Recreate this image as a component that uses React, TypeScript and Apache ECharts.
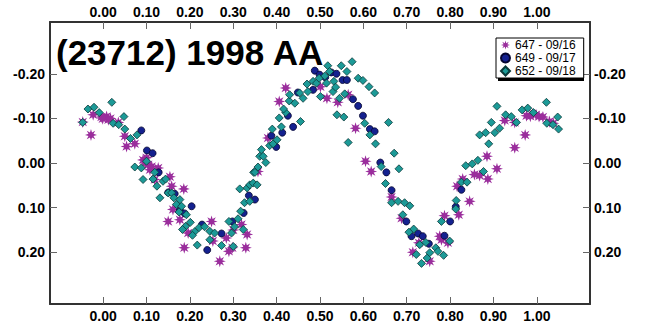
import React, { useEffect, useRef } from "react";
import * as echarts from "echarts";

// Rotational phase vs. differential magnitude for three nights.
const night647: [number, number][] = [
  [-0.047, -0.092], [-0.028, -0.063], [-0.023, -0.108], [-0.004, -0.103], [0.008, -0.104],
  [0.012, -0.097], [-0.001, -0.099], [0.017, -0.1], [0.035, -0.091], [0.05, -0.06],
  [0.054, -0.037], [0.073, -0.043], [0.092, -0.007], [0.097, 0.0], [0.104, 0.004],
  [0.1, -0.012], [0.108, 0.015], [0.112, 0.008], [0.127, 0.011], [0.119, 0.037],
  [0.154, 0.031], [0.158, 0.052], [0.186, 0.058], [0.161, 0.104], [0.15, 0.131],
  [0.177, 0.127], [0.196, 0.157], [0.187, 0.19], [0.25, 0.131], [0.253, 0.175],
  [0.269, 0.22], [0.284, 0.168], [0.29, 0.198], [0.298, 0.19], [0.3, 0.15],
  [0.319, 0.138], [0.329, 0.19], [0.332, 0.16], [0.357, 0.019], [0.38, -0.056],
  [0.406, -0.138], [0.421, -0.168], [0.501, -0.171], [0.516, -0.145], [0.541, -0.136],
  [0.565, -0.153], [0.582, -0.078], [0.605, -0.004], [0.618, 0.019], [0.665, 0.076],
  [0.688, 0.124], [0.714, 0.2], [0.728, 0.179], [0.753, 0.22], [0.78, 0.172],
  [0.795, 0.179], [0.787, 0.118], [0.776, 0.164], [0.82, 0.116], [0.816, 0.052],
  [0.845, 0.086], [0.829, 0.036], [0.856, 0.026], [0.868, 0.028], [0.887, 0.036],
  [0.908, 0.013], [0.885, -0.015], [0.949, -0.034], [0.973, -0.063], [0.926, -0.095],
  [0.949, -0.091], [0.976, -0.106], [0.985, -0.105], [0.991, -0.11], [0.998, -0.108],
  [1.005, -0.104], [1.014, -0.103], [1.029, -0.093], [1.038, -0.089],
];

const night649: [number, number][] = [
  [0.088, -0.073], [0.101, -0.028], [0.114, -0.022], [0.128, 0.021], [0.15, 0.066],
  [0.165, 0.069], [0.177, 0.106], [0.188, 0.113], [0.204, 0.097], [0.228, 0.138],
  [0.24, 0.195], [0.273, 0.158], [0.298, 0.131], [0.324, 0.112], [0.336, 0.073],
  [0.35, 0.082], [0.399, -0.036], [0.388, -0.061], [0.413, -0.068], [0.438, -0.081],
  [0.426, -0.106], [0.449, -0.158], [0.484, -0.164], [0.488, -0.207], [0.499, -0.198],
  [0.512, -0.192], [0.526, -0.203], [0.538, -0.2], [0.552, -0.186], [0.562, -0.186],
  [0.576, -0.143], [0.588, -0.128], [0.599, -0.106], [0.615, -0.076], [0.626, -0.071],
  [0.639, -0.001], [0.653, 0.021], [0.665, 0.061], [0.699, 0.131], [0.711, 0.164],
  [0.726, 0.158], [0.737, 0.164], [0.751, 0.181], [0.787, 0.163], [0.8, 0.131],
  [0.813, 0.098], [0.826, 0.06],
];

const night652: [number, number][] = [
  [-0.047, -0.091], [-0.035, -0.121], [-0.021, -0.125], [-0.009, -0.113], [0.02, -0.136],
  [0.023, -0.089], [0.036, -0.086], [0.048, -0.104], [0.05, -0.076], [0.063, -0.055],
  [0.078, -0.063], [0.073, 0.009], [0.088, 0.011], [0.1, -0.004], [0.092, 0.037],
  [0.115, 0.036], [0.119, 0.021], [0.124, 0.052], [0.138, 0.041], [0.144, 0.036],
  [0.131, 0.078], [0.15, 0.067], [0.158, 0.067], [0.163, 0.078], [0.177, 0.082],
  [0.169, 0.093], [0.181, 0.097], [0.175, 0.11], [0.192, 0.116], [0.19, 0.142],
  [0.201, 0.133], [0.183, 0.149], [0.211, 0.154], [0.206, 0.162], [0.217, 0.184],
  [0.221, 0.145], [0.234, 0.143], [0.246, 0.153], [0.246, 0.172], [0.257, 0.157],
  [0.273, 0.185], [0.29, 0.131], [0.296, 0.157], [0.303, 0.143], [0.3, 0.187],
  [0.311, 0.125], [0.317, 0.108], [0.323, 0.149], [0.326, 0.089], [0.338, 0.086],
  [0.315, 0.058], [0.332, 0.056], [0.338, 0.049], [0.346, 0.045], [0.347, 0.021],
  [0.355, 0.049], [0.357, 0.009], [0.361, -0.015], [0.35, 0.021], [0.365, -0.03],
  [0.369, -0.015], [0.375, -0.001], [0.384, -0.039], [0.392, -0.043], [0.401, -0.052],
  [0.39, -0.076], [0.411, -0.081], [0.406, -0.101], [0.421, -0.113], [0.416, -0.121],
  [0.429, -0.139], [0.442, -0.134], [0.43, -0.153], [0.453, -0.157], [0.461, -0.145],
  [0.472, -0.16], [0.455, -0.093], [0.47, -0.177], [0.484, -0.183], [0.492, -0.179],
  [0.498, -0.19], [0.501, -0.149], [0.511, -0.195], [0.515, -0.179], [0.518, -0.218],
  [0.522, -0.205], [0.53, -0.16], [0.532, -0.183], [0.536, -0.17], [0.545, -0.145],
  [0.549, -0.218], [0.557, -0.155], [0.562, -0.205], [0.574, -0.227], [0.588, -0.19],
  [0.599, -0.185], [0.613, -0.171], [0.626, -0.157], [0.539, -0.108], [0.555, -0.103],
  [0.565, -0.046], [0.603, -0.089], [0.615, -0.063], [0.628, -0.043], [0.641, 0.008],
  [0.651, 0.046], [0.658, -0.091], [0.671, -0.022], [0.682, 0.013], [0.665, 0.089],
  [0.68, 0.086], [0.695, 0.089], [0.707, 0.096], [0.691, 0.116], [0.716, 0.148],
  [0.705, 0.155], [0.73, 0.183], [0.722, 0.205], [0.734, 0.225], [0.744, 0.178],
  [0.747, 0.213], [0.753, 0.201], [0.767, 0.19], [0.772, 0.198], [0.785, 0.207],
  [0.78, 0.131], [0.799, 0.175], [0.814, 0.084], [0.813, 0.103], [0.826, 0.043],
  [0.839, 0.043], [0.836, 0.006], [0.851, 0.002], [0.864, -0.006], [0.877, 0.019],
  [0.889, -0.043], [0.868, -0.063], [0.882, -0.068], [0.903, -0.068], [0.895, -0.091],
  [0.914, -0.078], [0.908, -0.127], [0.928, -0.108], [0.941, -0.104], [0.953, -0.091],
  [0.966, -0.119], [0.979, -0.123], [0.992, -0.113], [1.022, -0.136], [1.023, -0.089],
  [1.037, -0.086], [1.048, -0.103], [1.05, -0.076],
];

const seriesNames = ["647 - 09/16", "649 - 09/17", "652 - 09/18"];
const phaseTicks = [0, 0.1, 0.2, 0.3, 0.4, 0.5, 0.6, 0.7, 0.8, 0.9, 1.0];
const magTicks = [-0.2, -0.1, 0, 0.1, 0.2];
const titleText = "(23712) 1998 AA";

// eight-spoked asterisk marker
const ASTERISK =
  "path://M20 10 L14.16 11.72 L17.07 17.07 L11.72 14.16 L10 20 L8.28 14.16 L2.93 17.07 L5.84 11.72 L0 10 L5.84 8.28 L2.93 2.93 L8.28 5.84 L10 0 L11.72 5.84 L17.07 2.93 L14.16 8.28 Z";

const FONT = '"Liberation Sans", Arial, sans-serif';
const frameLine = { show: true, onZero: false, lineStyle: { color: "#333", width: 2 } };
const tickStyle = { inside: true, length: 7, lineStyle: { color: "#666", width: 1 } };
const labelStyle = {
  color: "#000",
  fontFamily: FONT,
  fontWeight: "bold" as const,
  fontSize: 14,
  formatter: (v: number) => Number(v).toFixed(2),
};

export default function App() {
  const ref = useRef<HTMLDivElement>(null);
  useEffect(() => {
    if (!ref.current) return;
    const chart = echarts.init(ref.current, undefined, { renderer: "svg" });
    const xAxisBase = {
      type: "value" as const,
      min: -0.1225,
      max: 1.1225,
      axisLine: frameLine,
      axisTick: { ...tickStyle, customValues: phaseTicks },
      splitLine: { show: false },
    };
    const yAxisBase = {
      type: "value" as const,
      inverse: true,
      min: -0.316,
      max: 0.316,
      axisLine: frameLine,
      axisTick: { ...tickStyle, customValues: magTicks },
      splitLine: { show: false },
    };
    chart.setOption({
      animation: false,
      backgroundColor: "#fff",
      grid: { left: 50, right: 55, top: 22, bottom: 29, containLabel: false },
      xAxis: [
        { ...xAxisBase, position: "bottom", axisLabel: { ...labelStyle, margin: 5, customValues: phaseTicks } },
        { ...xAxisBase, position: "top", axisLabel: { ...labelStyle, margin: 3, customValues: phaseTicks } },
      ],
      yAxis: [
        { ...yAxisBase, position: "left", axisLabel: { ...labelStyle, margin: 5, customValues: magTicks } },
        { ...yAxisBase, position: "right", axisLabel: { ...labelStyle, margin: 4, customValues: magTicks } },
      ],
      legend: {
        orient: "vertical",
        left: 496,
        top: 38,
        data: seriesNames,
        backgroundColor: "#fff",
        borderColor: "#000",
        borderWidth: 1,
        padding: [1, 8, 1, 4],
        itemGap: 1,
        itemWidth: 9,
        itemHeight: 9,
        textStyle: {
          fontFamily: FONT,
          fontSize: 12,
          color: "#000",
        },
        z: 10,
      },
      graphic: [
        {
          // offset drop shadow behind the legend box
          type: "rect",
          shape: { x: 498, y: 40, width: 86, height: 41 },
          style: { fill: "#000" },
          z: 5,
          silent: true,
        },
        {
          type: "text",
          x: 56,
          y: 52,
          style: {
            text: titleText,
            font: `bold 35px ${FONT}`,
            fill: "#000",
            textVerticalAlign: "middle",
          },
          z: 5,
        },
      ],
      series: [
        {
          name: seriesNames[0],
          type: "scatter",
          data: night647,
          symbol: ASTERISK,
          symbolSize: 12,
          itemStyle: { color: "#9a2d9c", opacity: 1 },
        },
        {
          name: seriesNames[1],
          type: "scatter",
          data: night649,
          symbol: "circle",
          symbolSize: 7,
          itemStyle: { color: "#14218f", borderColor: "#050530", borderWidth: 0.8, opacity: 1 },
        },
        {
          name: seriesNames[2],
          type: "scatter",
          data: night652,
          symbol: "diamond",
          symbolSize: 8,
          itemStyle: { color: "#1c9a97", borderColor: "#0a3a3a", borderWidth: 0.8, opacity: 1 },
        },
      ],
    });
    return () => chart.dispose();
  }, []);
  return <div ref={ref} style={{ width: 645, height: 333, position: "absolute", left: 0, top: 0 }} />;
}
